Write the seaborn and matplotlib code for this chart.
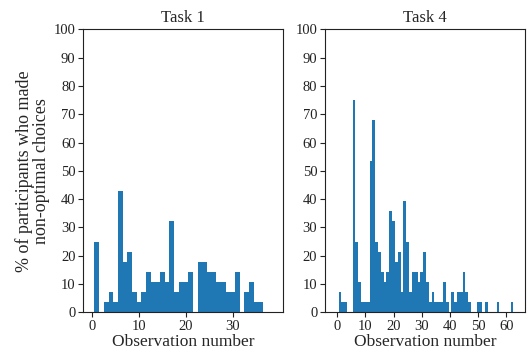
import numpy as np
import pandas as pd
import seaborn as sns
import matplotlib.pyplot as plt

# === Data ===
task1_obs = list(range(1, 37))
task1_pct = [25.0, 0.0, 3.6, 7.1, 3.6, 42.9, 17.9, 21.4, 7.1, 3.6,
             7.1, 14.3, 10.7, 10.7, 14.3, 10.7, 32.1, 7.1, 10.7, 10.7,
             14.3, 0.0, 17.9, 17.9, 14.3, 14.3, 10.7, 10.7, 7.1, 7.1,
             14.3, 0.0, 7.1, 10.7, 3.6, 3.6]

task4_obs = list(range(1, 63))
task4_pct = [7.1, 3.6, 3.6, 0.0, 0.0, 75.0, 25.0, 10.7, 3.6, 3.6,
             3.6, 53.6, 67.9, 25.0, 21.4, 14.3, 10.7, 14.3, 35.7, 32.1,
             17.9, 21.4, 7.1, 39.3, 25.0, 7.1, 14.3, 14.3, 10.7, 14.3,
             21.4, 10.7, 3.6, 7.1, 3.6, 3.6, 3.6, 10.7, 3.6, 0.0,
             7.1, 3.6, 7.1, 7.1, 14.3, 7.1, 3.6, 0.0, 0.0, 3.6,
             3.6, 0.0, 3.6, 0.0, 0.0, 0.0, 3.6, 0.0, 0.0, 0.0,
             0.0, 3.6]

titles = ["Task 1", "Task 4"]
ylabel = "% of participants who made\nnon-optimal choices"
xlabel = "Observation number"

# === Style ===
sns.set_style("ticks")
plt.rcParams['font.family'] = ['Liberation Serif', 'DejaVu Serif']
plt.rcParams['axes.edgecolor'] = '#222222'
plt.rcParams['xtick.color'] = '#222222'
plt.rcParams['ytick.color'] = '#222222'

fig, axes = plt.subplots(1, 2, figsize=(5.3, 3.56), dpi=100)
fig.subplots_adjust(left=0.157, right=0.9906, bottom=0.1228, top=0.9174, wspace=0.2085)

panels = [
    (task1_obs, task1_pct, (-1.9, 40.8)),
    (task4_obs, task4_pct, (-4.3, 66.6)),
]

for ax, (obs, pct, xl), title in zip(axes, panels, titles):
    df = pd.DataFrame({"obs": obs, "pct": pct})
    sns.histplot(data=df, x="obs", weights="pct", discrete=True, shrink=1,
                 color="#1f77b4", alpha=1, linewidth=0, ax=ax)
    ax.set_xlim(*xl)
    ax.set_ylim(0, 100)
    ax.set_yticks(np.arange(0, 101, 10))
    ax.set_title(title, fontsize=12, pad=5)
    ax.set_xlabel(xlabel, fontsize=12.5, labelpad=1)
    ax.set_ylabel("")
    ax.tick_params(labelsize=10.5, length=3.5, width=0.8, pad=2)
    for sp in ax.spines.values():
        sp.set_linewidth(0.8)

axes[0].set_xticks([0, 10, 20, 30])
axes[1].set_xticks([0, 10, 20, 30, 40, 50, 60])
axes[0].set_ylabel(ylabel, fontsize=13, labelpad=3, linespacing=1.0)

plt.savefig("out.png", dpi=100)
